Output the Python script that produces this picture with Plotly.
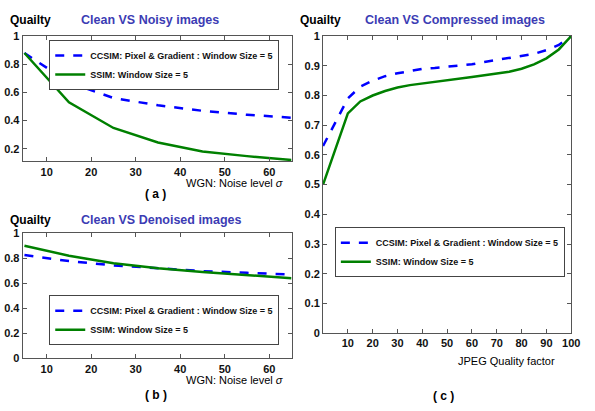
import plotly.graph_objects as go

# ---- data ----
noise_levels = [5, 15, 25, 35, 45, 55, 65]
noisy_ccsim = [0.88, 0.67, 0.56, 0.508, 0.469, 0.441, 0.42]
noisy_ssim = [0.88, 0.53, 0.347, 0.244, 0.18, 0.147, 0.12]

denoised_ccsim = [0.825, 0.777, 0.743, 0.717, 0.697, 0.683, 0.67]
denoised_ssim = [0.90, 0.82, 0.76, 0.72, 0.69, 0.665, 0.64]

jpeg_q = [0, 10, 15, 20, 25, 30, 35, 40, 45, 50, 55, 60, 65, 70, 75, 80, 85, 90, 95, 100]
jpeg_ccsim = [0.63, 0.79, 0.83, 0.85, 0.865, 0.875, 0.882, 0.89, 0.893, 0.897, 0.90,
              0.905, 0.913, 0.92, 0.927, 0.933, 0.94, 0.953, 0.97, 1.0]
jpeg_ssim = [0.50, 0.74, 0.78, 0.80, 0.815, 0.827, 0.835, 0.84, 0.847, 0.852, 0.857,
             0.862, 0.868, 0.875, 0.88, 0.89, 0.905, 0.925, 0.955, 1.0]

name_ccsim = "CCSIM: Pixel & Gradient : Window Size = 5"
name_ssim = "SSIM: Window Size = 5"

W, H = 595, 411
def fx(px): return px / W
def fy(py): return 1 - py / H

BLUE = "#0000ff"
GREEN = "#008000"
TITLE = "#3c3cb4"
FONT = "Liberation Sans, Arial, sans-serif"

fig = go.Figure()

def add_pair(x, c, s, xa, ya, leg):
    fig.add_trace(go.Scatter(x=x, y=c, mode="lines", name=name_ccsim,
                             line=dict(color=BLUE, width=2.5, dash="dash"),
                             xaxis=xa, yaxis=ya, legend=leg))
    fig.add_trace(go.Scatter(x=x, y=s, mode="lines", name=name_ssim,
                             line=dict(color=GREEN, width=2.5),
                             xaxis=xa, yaxis=ya, legend=leg))

add_pair(noise_levels, noisy_ccsim, noisy_ssim, "x", "y", "legend")
add_pair(noise_levels, denoised_ccsim, denoised_ssim, "x2", "y2", "legend2")
add_pair(jpeg_q, jpeg_ccsim, jpeg_ssim, "x3", "y3", "legend3")

tickfont = dict(family=FONT, size=11, color="#111", weight="bold")
axcommon = dict(showline=True, mirror="ticks", linecolor="#555", linewidth=1,
                ticks="inside", ticklen=4, tickcolor="#555", showgrid=False,
                zeroline=False, tickfont=tickfont)

legcommon = dict(bordercolor="#444", borderwidth=1, bgcolor="white",
                 font=dict(family=FONT, size=9, color="#111", weight="bold"),
                 xanchor="left", yanchor="top", tracegroupgap=0,
                 itemwidth=30)

fig.update_layout(
    width=W, height=H, margin=dict(l=0, r=0, t=0, b=0),
    paper_bgcolor="white", plot_bgcolor="white",
    xaxis=dict(domain=[fx(23), fx(296)], range=[4.6, 65], anchor="y",
               tickvals=[10, 20, 30, 40, 50, 60], ticklabelstandoff=0, **axcommon),
    yaxis=dict(domain=[fy(160), fy(31)], range=[0.11, 1], anchor="x",
               tickvals=[0.2, 0.4, 0.6, 0.8, 1], ticktext=["0.2", "0.4", "0.6", "0.8", "1"],
               **axcommon),
    xaxis2=dict(domain=[fx(23), fx(296)], range=[4.6, 65], anchor="y2",
                tickvals=[10, 20, 30, 40, 50, 60], ticklabelstandoff=0, **axcommon),
    yaxis2=dict(domain=[fy(363), fy(234)], range=[0, 1], anchor="x2",
                tickvals=[0, 0.2, 0.4, 0.6, 0.8, 1], ticktext=["0", "0.2", "0.4", "0.6", "0.8", "1"],
                **axcommon),
    xaxis3=dict(domain=[fx(328), fx(580)], range=[0, 100], anchor="y3",
                tickvals=[10, 20, 30, 40, 50, 60, 70, 80, 90, 100], **axcommon),
    yaxis3=dict(domain=[fy(337), fy(31)], range=[0, 1], anchor="x3",
                tickvals=[0, 0.1, 0.2, 0.3, 0.4, 0.5, 0.6, 0.7, 0.8, 0.9, 1],
                ticktext=["0", "0.1", "0.2", "0.3", "0.4", "0.5", "0.6", "0.7", "0.8", "0.9", "1"],
                **axcommon),
    legend=dict(x=fx(50), y=fy(35), **legcommon),
    legend2=dict(x=fx(50), y=fy(298), **legcommon),
    legend3=dict(x=fx(340), y=fy(228), **legcommon),
    showlegend=True,
)

def txt(x, y, s, size=12, color="black", anchor="left"):
    fig.add_annotation(x=fx(x), y=fy(y), xref="paper", yref="paper", text=s,
                       showarrow=False, xanchor=anchor, yanchor="middle",
                       font=dict(family=FONT, size=size, color=color))

# Panel (a)
txt(8, 14, "<b>Quailty</b>", 12)
txt(80, 14, "<b>Clean VS Noisy images</b>", 12.5, TITLE)
txt(289, 182, "WGN: Noise level <i>σ</i>", 11, anchor="right")
txt(158, 194, "<b>( a )</b>", 12, anchor="center")
# Panel (b)
txt(8, 220, "<b>Quailty</b>", 12)
txt(80, 220, "<b>Clean VS Denoised images</b>", 12.5, TITLE)
txt(289, 385, "WGN: Noise level <i>σ</i>", 11, anchor="right")
txt(158, 401, "<b>( b )</b>", 12, anchor="center")
# Panel (c)
txt(303, 14, "<b>Quailty</b>", 12)
txt(369, 14, "<b>Clean VS Compressed images</b>", 12.5, TITLE)
txt(566, 366, "JPEG Quality factor", 11, anchor="right")
txt(450, 402, "<b>( c )</b>", 12, anchor="center")

fig.write_html("out.html", config={"displayModeBar": False},
               post_script="document.body.style.margin='0';")
